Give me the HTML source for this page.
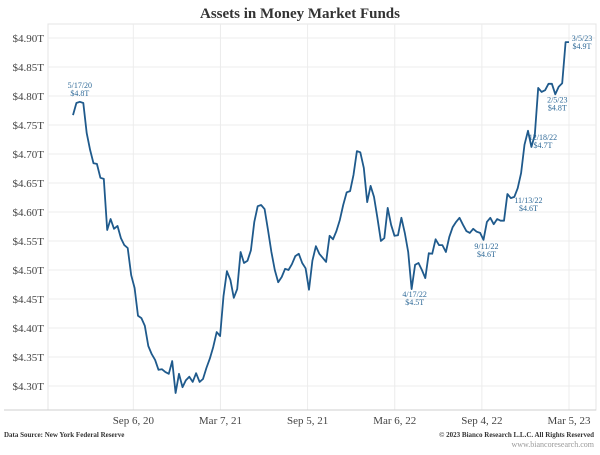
<!DOCTYPE html>
<html><head><meta charset="utf-8"><style>
body{margin:0;background:#fff;width:600px;height:450px;overflow:hidden;font-family:"Liberation Serif",serif}
</style></head><body>
<svg id="chart" width="600" height="450" xmlns="http://www.w3.org/2000/svg"></svg>
<script>
const values=[4.767,4.788,4.790,4.788,4.736,4.707,4.684,4.683,4.659,4.657,4.569,4.588,4.571,4.576,4.555,4.543,4.538,4.491,4.469,4.421,4.417,4.404,4.369,4.355,4.345,4.328,4.329,4.324,4.321,4.343,4.288,4.321,4.298,4.310,4.316,4.307,4.322,4.307,4.312,4.331,4.347,4.367,4.393,4.386,4.455,4.498,4.483,4.452,4.467,4.531,4.512,4.516,4.534,4.583,4.610,4.612,4.605,4.569,4.531,4.500,4.479,4.488,4.502,4.500,4.510,4.524,4.528,4.512,4.503,4.466,4.516,4.541,4.528,4.521,4.514,4.559,4.553,4.567,4.586,4.612,4.634,4.636,4.664,4.705,4.703,4.676,4.617,4.645,4.626,4.590,4.550,4.555,4.607,4.578,4.559,4.560,4.590,4.564,4.531,4.467,4.509,4.512,4.500,4.486,4.529,4.528,4.553,4.543,4.543,4.531,4.557,4.574,4.583,4.590,4.578,4.567,4.564,4.571,4.566,4.564,4.552,4.583,4.590,4.579,4.588,4.585,4.585,4.631,4.624,4.626,4.641,4.667,4.716,4.740,4.712,4.733,4.814,4.807,4.810,4.821,4.821,4.803,4.816,4.822,4.893,4.893];
const yTicks=[4.30,4.35,4.40,4.45,4.50,4.55,4.60,4.65,4.70,4.75,4.80,4.85,4.90];
const xTickLabels=["Sep 6, 20","Mar 7, 21","Sep 5, 21","Mar 6, 22","Sep 4, 22","Mar 5, 23"];
const xTickDays=[126,308,490,672,854,1036];
const annDates=["5/17/20","4/17/22","9/11/22","11/13/22","12/18/22","2/5/23","3/5/23"];
const annValues=["$4.8T","$4.5T","$4.6T","$4.6T","$4.7T","$4.8T","$4.9T"];
const annIndex=[2,99,120,127,133,141,145];
const annDx=[0,3,3,21,15,2,13];
const annDy=[-14,8,9,9,9,8,-1];
const startDay=0, endDay=1036; // 2020-05-03 .. 2023-03-05
const NS="http://www.w3.org/2000/svg";
const svg=document.getElementById('chart');
function xDay(d){return 73+(d-startDay)/(endDay-startDay)*(569-73);}
function xIdx(i){return xDay(startDay+i*(endDay-startDay)/(values.length-1));}
function y(v){return 38+(4.90-v)/0.05*29;}
function el(t,a,p){const e=document.createElementNS(NS,t);for(const k in a)e.setAttribute(k,a[k]);(p||svg).appendChild(e);return e;}
el('rect',{x:48,y:24,width:548,height:386,fill:'none',stroke:'#e4e4e4'});
yTicks.forEach(v=>{
 const g=el('line',{x1:48,x2:596,y1:y(v),y2:y(v),stroke:'#ececec'});
 
 
 const t=el('text',{x:44,y:y(v)+4,'text-anchor':'end','font-size':11,fill:'#444'});
 t.textContent='$'+v.toFixed(2)+'T';
 
 
});
xTickDays.forEach((d,i)=>{
 const g=el('line',{x1:xDay(d),x2:xDay(d),y1:24,y2:410,stroke:'#ececec'});
 
 
 const t=el('text',{x:xDay(d),y:424,'text-anchor':'middle','font-size':11,fill:'#444'});
 t.textContent=xTickLabels[i];
 
 
});
const ax=el('line',{x1:4,x2:596,y1:410,y2:410,stroke:'#cfcfcf'});


const p=el('path',{d:values.map((v,i)=>(i?'L':'M')+xIdx(i).toFixed(1)+','+y(v).toFixed(1)).join(''),fill:'none',stroke:'#1f5a8c','stroke-width':1.8,'stroke-linejoin':'round'});


annIndex.forEach((idx,i)=>{
 const tx=xIdx(idx)+annDx[i], ty=y(values[idx])+annDy[i];
 const t1=el('text',{x:tx,y:ty,'text-anchor':'middle','font-size':8,fill:'#2f6a98'});
 t1.textContent=annDates[i];
 
 
 const t2=el('text',{x:tx,y:ty+8,'text-anchor':'middle','font-size':8,fill:'#2f6a98'});
 t2.textContent=annValues[i];
 
 
});
const ti=el('text',{x:300,y:18,'text-anchor':'middle','font-size':15,'font-weight':'bold',fill:'#333'});
ti.textContent='Assets in Money Market Funds';


const s=el('text',{x:4,y:437,'font-size':7,'font-weight':'bold',fill:'#333'});
s.textContent='Data Source: New York Federal Reserve';


const c=el('text',{x:594,y:437,'text-anchor':'end','font-size':7,'font-weight':'bold',fill:'#333'});
c.textContent='© 2023 Bianco Research L.L.C. All Rights Reserved';


const w=el('text',{x:594,y:447,'text-anchor':'end','font-size':8,fill:'#999'});
w.textContent='www.biancoresearch.com';


</script>
</body></html>
